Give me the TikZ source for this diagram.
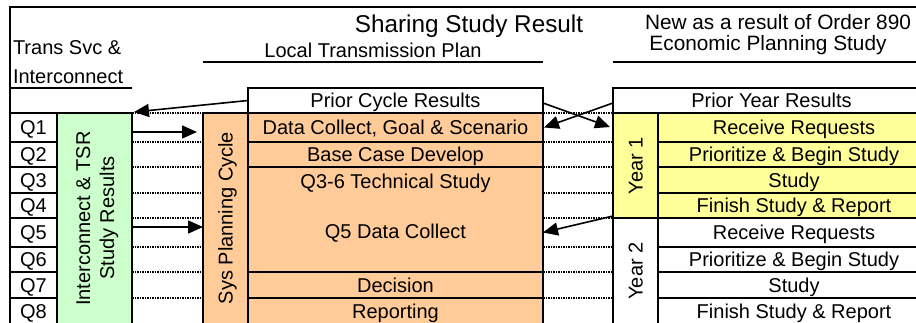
\documentclass[tikz,border=0pt]{standalone}
\usepackage{fontspec}
\setmainfont{Liberation Sans}
\usetikzlibrary{arrows.meta,calc}
\definecolor{cgreen}{HTML}{CCFFCC}
\definecolor{corange}{HTML}{FFCC99}
\definecolor{cyellow}{HTML}{FFFF99}
\begin{document}
\begin{tikzpicture}[x=1pt,y=-1pt,
  lbl/.style={font=\fontsize{20}{24}\selectfont, inner sep=0pt, outer sep=0pt},
  cell/.style={lbl, draw=black, line width=2.6pt, anchor=north west, text height=14.3pt, text depth=0pt},
  vlbl/.style={lbl, rotate=90, text height=14.3pt, text depth=0pt},
  hdr/.style={lbl, font=\fontsize{20.8}{24}\selectfont},
  rule/.style={line width=2.8pt},
  dotline/.style={line width=2pt, dash pattern=on 1.5pt off 1pt},
  arw/.style={line width=1.6pt, -{Triangle[length=15pt,width=13pt]}},
]
\useasboundingbox (0,0) rectangle (916,322);
\clip (0,0) rectangle (916,322);
\fill[white] (0,0) rectangle (916,322);

% header texts
\node[lbl, anchor=base, font=\fontsize{24.3}{28}\selectfont] (title) at (469,32) {Sharing Study Result};
\node[lbl, anchor=base west] (tsv1) at (13,54) {Trans Svc \&};
\node[lbl, anchor=base west] (tsv2) at (13,83) {Interconnect};
\node[lbl, anchor=base] (ltp) at (373,57) {Local Transmission Plan};
\node[hdr, anchor=base] (new) at (778,29) {New as a result of Order 890};
\node[hdr, anchor=base] (eps) at (768,50) {Economic Planning Study};

% quarter cells
\node[cell, minimum width=47pt, minimum height=29pt] (q1) at (10,113) {Q1};
\node[cell, minimum width=47pt, minimum height=25pt] (q2) at (10,142) {Q2};
\node[cell, minimum width=47pt, minimum height=26pt] (q3) at (10,167) {Q3};
\node[cell, minimum width=47pt, minimum height=25pt] (q4) at (10,193) {Q4};
\node[cell, minimum width=47pt, minimum height=29pt] (q5) at (10,218) {Q5};
\node[cell, minimum width=47pt, minimum height=25pt] (q6) at (10,247) {Q6};
\node[cell, minimum width=47pt, minimum height=26pt] (q7) at (10,272) {Q7};
\node[cell, minimum width=47pt, minimum height=26pt] (q8) at (10,298) {Q8};

% green column
\node[cell, fill=cgreen, minimum width=75pt, minimum height=211pt] (green) at (57,113) {};
\node[vlbl] (g1) at (83,218.5) {Interconnect \& TSR};
\node[vlbl] (g2) at (107,218) {Study Results};

% local plan columns
\node[cell, fill=corange, minimum width=45pt, minimum height=211pt] (sys) at (203,113) {};
\node[vlbl] (syst) at (225.5,218) {Sys Planning Cycle};
\node[cell, minimum width=295pt, minimum height=25pt] (pcr) at (248,88) {Prior Cycle Results};
\node[cell, fill=corange, minimum width=295pt, minimum height=29pt] (dc) at (248,113) {Data Collect, Goal \& Scenario};
\node[cell, fill=corange, minimum width=295pt, minimum height=25pt] (bc) at (248,142) {Base Case Develop};
\node[cell, fill=corange, minimum width=295pt, minimum height=105pt] (ts) at (248,167) {};
\node[lbl, text height=14.3pt, text depth=0pt] (ts1) at ($(ts.north)+(0,14.5)$) {Q3-6 Technical Study};
\node[lbl, text height=14.3pt, text depth=0pt] (ts2) at ($(ts.north)+(0,64)$) {Q5 Data Collect};
\node[cell, fill=corange, minimum width=295pt, minimum height=26pt] (dec) at (248,272) {Decision};
\node[cell, fill=corange, minimum width=295pt, minimum height=26pt] (rep) at (248,298) {Reporting};

% economic planning columns
\node[cell, minimum width=317pt, minimum height=25pt] (pyr) at (613,88) {Prior Year Results};
\node[cell, fill=cyellow, minimum width=45pt, minimum height=105pt] (year1) at (613,113) {};
\node[vlbl] (y1t) at (635.5,165.5) {Year 1};
\node[cell, minimum width=45pt, minimum height=106pt] (year2) at (613,218) {};
\node[vlbl] (y2t) at (635.5,271) {Year 2};
\node[cell, fill=cyellow, minimum width=272pt, minimum height=29pt] (r1) at (658,113) {Receive Requests};
\node[cell, fill=cyellow, minimum width=272pt, minimum height=25pt] (r2) at (658,142) {Prioritize \& Begin Study};
\node[cell, fill=cyellow, minimum width=272pt, minimum height=26pt] (r3) at (658,167) {Study};
\node[cell, fill=cyellow, minimum width=272pt, minimum height=25pt] (r4) at (658,193) {Finish Study \& Report};
\node[cell, minimum width=272pt, minimum height=29pt] (r5) at (658,218) {Receive Requests};
\node[cell, minimum width=272pt, minimum height=25pt] (r6) at (658,247) {Prioritize \& Begin Study};
\node[cell, minimum width=272pt, minimum height=26pt] (r7) at (658,272) {Study};
\node[cell, minimum width=272pt, minimum height=26pt] (r8) at (658,298) {Finish Study \& Report};

% frame and rules
\draw[rule] (q8.south west) -- (10,7) -- (930,7);
\draw[rule] (q1.west |- pcr.north) -- (green.east |- pcr.north);
\draw[rule] (sys.west |- 0,62) -- (pcr.east |- 0,62);
\draw[rule] (pyr.west |- 0,62) -- (pyr.east |- 0,62);

% dotted guide lines
\foreach \n in {q1,q2,q3,q4,q5,q6,q7,q8}{
  \draw[dotline] (green.east |- \n.north) -- (sys.west |- \n.north);
  \draw[dotline] (pcr.east |- \n.north) -- (year1.west |- \n.north);
}

% arrows
\draw[arw] (pcr.west) -- ($(green.north east)+(2,-1)$);
\draw[arw] ($(green.east |- q1.center)+(0,4.5)$) -- ($(sys.west |- q1.center)+(-6,4.5)$);
\draw[arw] ($(green.east |- q5.center)+(0,-5.5)$) -- ($(sys.west |- q5.center)+(0,-5.5)$);
\draw[arw] ($(pcr.east)+(0,2.5)$) -- ($(year1.north west)+(-3,14)$);
\draw[arw] ($(pyr.west)+(0,2.5)$) -- ($(dc.east)+(1,0)$);
\draw[arw] ($(year1.south west)+(0,-2)$) -- (ts.east |- q5.center);
\end{tikzpicture}
\end{document}
